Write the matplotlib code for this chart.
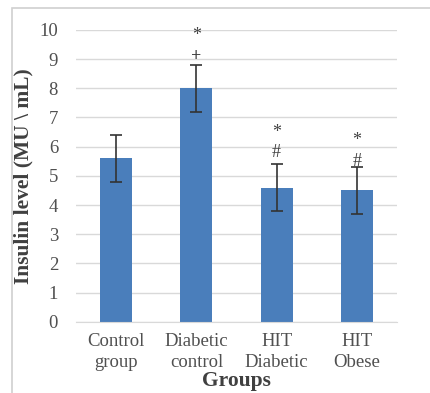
import matplotlib.pyplot as plt
from matplotlib.patches import Rectangle

groups = ["Control\ngroup", "Diabetic\ncontrol", "HIT\nDiabetic", "HIT\nObese"]
insulin = [5.6, 8.0, 4.6, 4.5]
insulin_err = [0.8, 0.8, 0.8, 0.8]
# significance marks per group: (symbol, y position)
marks = [[], [("+", 9.1), ("*", 9.8)], [("#", 5.8), ("*", 6.5)], [("#", 5.5), ("*", 6.2)]]

plt.rcParams["font.family"] = ["Liberation Serif", "DejaVu Serif"]

fig = plt.figure(figsize=(4.3, 3.93), dpi=100)
ax = fig.add_axes([0.177, 0.181, 0.746, 0.743])

x = range(len(groups))
ax.bar(x, insulin, width=0.4, color="#4a7ebb", zorder=2)
ax.errorbar(x, insulin, yerr=insulin_err, fmt="none", ecolor="#333333",
            elinewidth=1.2, capsize=4, capthick=1.2, zorder=3)

for i, group_marks in enumerate(marks):
    for sym, y in group_marks:
        ax.text(i, y, sym, ha="center", va="center", fontsize=13,
                color="#404040", fontweight="bold" if sym == "+" else "normal")

ax.set_ylim(0, 10)
ax.set_xlim(-0.5, 3.5)
ax.set_yticks(range(0, 11))
ax.set_xticks(list(x))
ax.set_xticklabels(groups, fontsize=13.5, color="#505050", linespacing=1.3)
ax.tick_params(axis="y", labelsize=13.5, labelcolor="#505050", length=0, pad=13)
ax.tick_params(axis="x", length=0, pad=8)
ax.yaxis.grid(True, color="#d9d9d9", linewidth=1.0, zorder=0)
ax.set_axisbelow(True)
for side in ["top", "right", "left"]:
    ax.spines[side].set_visible(False)
ax.spines["bottom"].set_color("#d9d9d9")

ax.set_ylabel("Insulin level (MU \\ mL)", fontsize=15.5, fontweight="bold",
              color="#404040", labelpad=4)
ax.set_xlabel("Groups", fontsize=15.5, fontweight="bold", color="#404040",
              labelpad=0)

# light chart-area frame; its bottom edge runs past the figure
fig.patches.append(Rectangle((12 / 430, -0.05), 420 / 430, 1.05 - 8 / 393,
                             transform=fig.transFigure, fill=False,
                             edgecolor="#d0d0d0", linewidth=1.2))

fig.savefig("out.png", dpi=100)
